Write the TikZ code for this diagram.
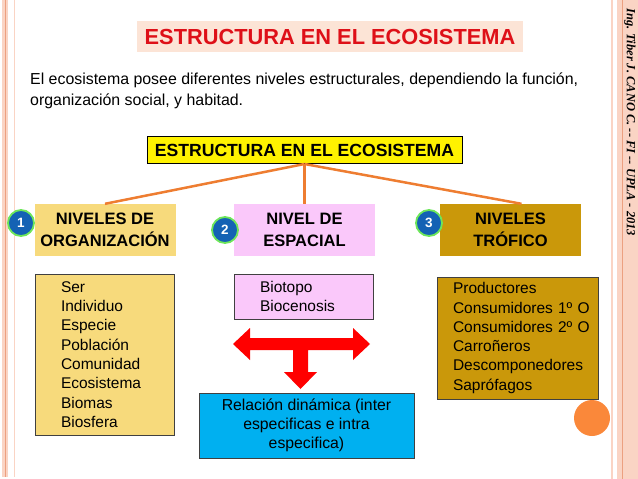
\documentclass[tikz,border=0pt]{standalone}
\usepackage{fontspec}
\setmainfont{Liberation Sans}
\newfontfamily\autorfont{Liberation Serif}
\usetikzlibrary{positioning}
\definecolor{titulofondo}{RGB}{252,228,214}
\definecolor{titulorojo}{RGB}{222,16,24}
\definecolor{naranja}{RGB}{238,125,49}
\definecolor{circnaranja}{RGB}{250,136,58}
\definecolor{borde}{RGB}{250,212,196}
\definecolor{bordeosc}{RGB}{236,160,128}
\definecolor{oroclaro}{RGB}{247,218,124}
\definecolor{rosa}{RGB}{250,200,250}
\definecolor{oro}{RGB}{202,152,10}
\definecolor{celeste}{RGB}{0,176,240}
\definecolor{azulnum}{RGB}{20,98,180}
\definecolor{verdeglow}{RGB}{110,230,90}

\begin{document}
\begin{tikzpicture}[x=1pt,y=-1pt,
  nivel/.style={minimum width=141pt,minimum height=52pt,align=center,inner sep=0pt,
    font=\fontsize{16.5}{22}\selectfont\bfseries},
  lista/.style={draw=black!75,line width=0.8pt,align=left,inner ysep=0pt,
    font=\fontsize{15.5}{19.3}\selectfont},
  num/.style={circle,fill=azulnum,draw=verdeglow,line width=1.8pt,minimum size=26pt,
    inner sep=0pt,text=white,font=\fontsize{13.5}{13.5}\selectfont\bfseries},
  enlace/.style={draw=naranja,line width=2.5pt}]
  \useasboundingbox (0,0) rectangle (638,479);
  % bordes de la lamina
  \fill[borde] (2,0) rectangle (8,477);
  \draw[bordeosc,line width=0.8pt] (5.5,0) -- (5.5,477);
  \draw[borde,line width=0.6pt] (14.5,0) -- (14.5,477);
  \fill[borde] (611,0) rectangle (613,479);
  \fill[borde] (617,0) rectangle (638,479);
  \draw[bordeosc,line width=1pt] (622.5,0) -- (622.5,479);
  \node[rotate=-90,anchor=west,inner sep=0pt,
    font=\autorfont\bfseries\itshape\fontsize{12.5}{13}\selectfont] (autor) at (630,8)
    {Ing. Tiber J. CANO C. -- FI -- UPLA - 2013};
  \fill[circnaranja] (592,418) circle (18pt);

  \node[fill=titulofondo,minimum width=386pt,minimum height=31pt,inner sep=0pt,
    text=titulorojo,font=\fontsize{21.8}{22}\selectfont\bfseries] (titulo) at (330,36.5)
    {ESTRUCTURA EN EL ECOSISTEMA};
  \node[anchor=west,align=left,inner sep=0pt,font=\fontsize{15.9}{21}\selectfont] (intro) at (30,91)
    {El ecosistema posee diferentes niveles estructurales, dependiendo la función,\\
     organización social, y habitad.};

  \node[draw,line width=1pt,fill=yellow,minimum width=315pt,minimum height=27pt,inner sep=0pt,
    font=\fontsize{17.6}{18}\selectfont\bfseries] (raiz) at (304.5,150)
    {ESTRUCTURA EN EL ECOSISTEMA};

  \node[nivel,fill=oroclaro] (n1) at (105,230) {NIVELES DE\\ORGANIZACIÓN};
  \node[nivel,fill=rosa] (n2) at (304.5,230) {NIVEL DE\\ESPACIAL};
  \node[nivel,fill=oro] (n3) at (510.5,230) {NIVELES\\TRÓFICO};
  \draw[enlace] (raiz.south) -- (n1.north);
  \draw[enlace] (raiz.south) -- (n2.north);
  \draw[enlace] (raiz.south) -- ([xshift=11pt]n3.north);
  \node[num] (c1) at (21,223) {1};
  \node[num] (c2) at (225,230) {2};
  \node[num] (c3) at (429,223) {3};

  \node[lista,fill=oroclaro,inner xsep=26pt,text width=87pt,minimum height=161pt]
    (org) at (104.5,354.5)
    {Ser\\Individuo\\Especie\\Población\\Comunidad\\Ecosistema\\Biomas\\Biosfera};
  \node[lista,fill=rosa,inner xsep=26pt,text width=87pt,minimum height=45pt]
    (esp) at (303.5,296.5) {Biotopo\\Biocenosis};
  \node[lista,fill=oro,inner xsep=16pt,text width=129pt,minimum height=122pt]
    (tro) at (517.5,338)
    {Productores\\Consumidores~1º~O\\Consumidores~2º~O\\Carroñeros\\Descomponedores\\Saprófagos};
  \node[draw=black!75,line width=0.8pt,fill=celeste,minimum width=215pt,minimum height=65pt,
    inner sep=0pt,align=center,font=\fontsize{15.8}{19}\selectfont] (rel) at (306.5,425.5)
    {Relación dinámica (inter\\especificas e intra\\especifica)};

  % flecha en T
  \fill[red] (233,344) -- (250,328) -- (250,338) -- (353,338) -- (353,328) -- (370,344)
    -- (353,360) -- (353,350) -- (308,350) -- (308,372) -- (317,372) -- (300.5,389)
    -- (284,372) -- (293,372) -- (293,350) -- (250,350) -- (250,360) -- cycle;
\end{tikzpicture}
\end{document}
